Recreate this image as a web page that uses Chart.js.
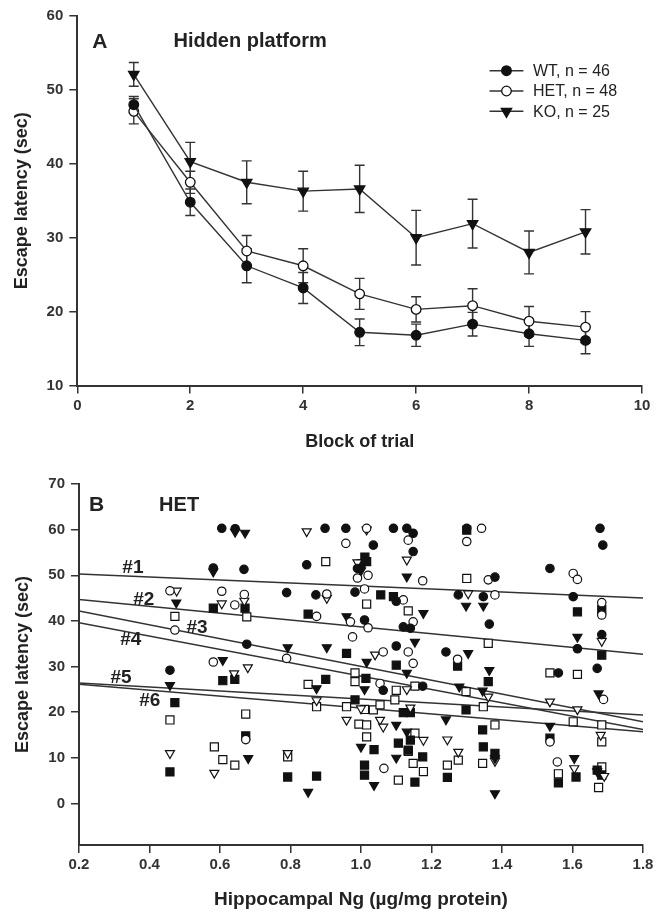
<!DOCTYPE html>
<html>
<head>
<meta charset="utf-8">
<script src="https://cdn.jsdelivr.net/npm/chart.js@4.4.0/dist/chart.umd.min.js"></script>
<style>
  body { margin: 0; background: #fff; }
  #wrap { position: relative; width: 665px; height: 913px; }
  canvas { position: absolute; left: 0; }
  #chartA { top: 0; }
  #chartB { top: 455px; }
</style>
</head>
<body>
<div id="wrap">
  <canvas id="chartA" width="665" height="455"></canvas>
  <canvas id="chartB" width="665" height="458"></canvas>
</div>
<script>
/* ---------- data: panel A (hidden platform) ---------- */
var blocks = [1, 2, 3, 4, 5, 6, 7, 8, 9];
var groupNames = ['WT, n = 46', 'HET, n = 48', 'KO, n = 25'];
var wtMean = [48.0, 34.8, 26.2, 23.2, 17.2, 16.8, 18.3, 17.0, 16.1];
var wtErr = [1.1, 1.8, 2.3, 2.1, 1.8, 1.5, 1.6, 1.7, 1.8];
var hetMean = [47.1, 37.5, 28.2, 26.2, 22.4, 20.3, 20.8, 18.7, 17.9];
var hetErr = [1.7, 1.5, 2.1, 2.3, 2.1, 1.7, 2.3, 2.0, 2.1];
var koMean = [52.1, 40.3, 37.5, 36.3, 36.6, 30.0, 31.9, 28.0, 30.8];
var koErr = [1.6, 2.6, 2.9, 2.7, 3.2, 3.7, 3.3, 2.9, 3.0];
var xTicksA = [0, 2, 4, 6, 8, 10];
var yTicksA = [10, 20, 30, 40, 50, 60];

/* ---------- data: panel B (HET, escape latency vs Ng) ---------- */
// [Ng, latency] per animal, one array per trial
var trial1 = [[0.458,29.2],[0.581,51.6],[0.605,60.3],[0.643,60.2],[0.668,51.3],[0.676,34.9],[0.789,46.2],
  [0.846,52.3],[0.872,45.7],[0.898,60.3],[0.957,60.3],[0.983,46.3],[0.99,51.5],[1.01,40.2],[1.035,56.6],
  [1.063,24.8],[1.092,60.3],[1.1,44.3],[1.1,34.5],[1.12,38.7],[1.13,60.3],[1.148,59.2],[1.148,55.2],
  [1.14,38.4],[1.175,25.7],[1.241,33.2],[1.276,45.7],[1.3,60.3],[1.347,45.3],[1.364,39.3],[1.38,49.6],
  [1.536,51.5],[1.56,28.6],[1.602,45.3],[1.614,33.9],[1.67,29.6],[1.678,60.3],[1.686,56.6],[1.683,37.0]];
var trial2 = [[0.472,38.0],[0.458,46.6],[0.581,31.0],[0.605,46.5],[0.642,43.5],[0.669,45.8],[0.673,14.0],
  [0.789,31.8],[0.874,41.0],[0.903,45.9],[0.957,57.0],[0.97,39.8],[0.976,36.5],[0.99,49.4],[1.016,60.3],
  [1.02,50.0],[1.01,47.0],[1.02,38.5],[1.054,26.3],[1.063,33.2],[1.065,7.7],[1.12,44.6],[1.134,57.7],
  [1.134,33.2],[1.148,39.8],[1.148,30.7],[1.175,48.8],[1.274,31.6],[1.3,57.4],[1.342,60.3],[1.361,49.0],
  [1.38,45.7],[1.536,13.5],[1.557,9.1],[1.602,50.4],[1.614,49.1],[1.683,44.0],[1.683,41.3],[1.688,22.8]];
var trial3 = [[0.458,25.9],[0.476,44.0],[0.581,50.8],[0.608,31.4],[0.643,59.5],[0.671,59.3],[0.68,9.9],
  [0.792,34.2],[0.85,2.5],[0.874,25.2],[0.903,34.2],[0.959,41.0],[1.0,51.0],[1.0,12.4],[1.016,31.0],
  [1.01,25.0],[1.037,4.0],[1.1,17.2],[1.1,10.0],[1.13,49.7],[1.13,28.6],[1.13,15.7],[1.153,35.4],
  [1.177,41.7],[1.241,18.4],[1.279,25.6],[1.298,43.3],[1.304,32.9],[1.345,24.7],[1.347,43.3],[1.364,29.2],
  [1.38,9.9],[1.38,2.2],[1.536,17.0],[1.605,9.9],[1.614,36.5],[1.674,24.1],[1.67,7.0]];
var trial4 = [[0.458,11.0],[0.477,46.6],[0.584,6.7],[0.605,43.8],[0.64,28.5],[0.679,29.8],[0.669,44.4],
  [0.792,11.0],[0.846,59.6],[0.874,22.6],[0.903,45.0],[0.959,18.3],[0.99,52.8],[1.016,60.0],[1.0,20.8],
  [1.04,32.6],[1.054,18.3],[1.063,16.8],[1.13,53.4],[1.13,25.0],[1.14,21.0],[1.177,13.9],[1.245,14.0],
  [1.276,11.3],[1.304,46.0],[1.361,23.4],[1.38,9.3],[1.536,22.3],[1.605,7.7],[1.614,20.6],[1.68,15.0],
  [1.683,35.6],[1.69,6.0]];
var trial5 = [[0.458,6.9],[0.472,22.1],[0.581,42.8],[0.608,26.9],[0.642,27.2],[0.671,42.8],[0.673,14.8],
  [0.792,5.8],[0.85,41.5],[0.874,6.0],[0.9,27.2],[0.959,32.9],[0.983,22.7],[1.0,52.5],[1.011,54.0],
  [1.016,53.0],[1.014,27.4],[1.037,11.8],[1.01,8.4],[1.01,6.2],[1.056,45.7],[1.092,45.3],[1.1,30.3],
  [1.12,19.9],[1.14,19.9],[1.106,13.2],[1.14,13.9],[1.134,11.7],[1.175,10.2],[1.153,4.7],[1.245,5.7],
  [1.274,30.1],[1.298,20.5],[1.3,59.9],[1.345,16.1],[1.347,12.4],[1.361,26.7],[1.38,11.0],[1.536,14.3],
  [1.56,4.5],[1.61,5.8],[1.614,42.0],[1.67,7.3],[1.683,42.5],[1.683,32.5],[1.683,6.2]];
var trial6 = [[0.458,18.3],[0.472,41.0],[0.584,12.4],[0.608,9.6],[0.642,8.4],[0.673,19.6],[0.676,40.9],
  [0.792,10.2],[0.85,26.1],[0.874,21.2],[0.9,53.0],[0.959,21.2],[0.983,28.6],[0.983,26.7],[0.994,17.4],
  [1.016,17.2],[1.016,14.6],[1.016,43.7],[1.01,20.6],[1.035,20.5],[1.054,21.6],[1.096,22.7],[1.1,24.8],
  [1.106,5.1],[1.134,42.2],[1.134,11.4],[1.153,15.4],[1.148,8.8],[1.153,25.7],[1.177,7.0],[1.245,8.4],
  [1.276,9.5],[1.298,24.5],[1.3,49.3],[1.345,8.8],[1.347,21.2],[1.361,35.1],[1.38,17.2],[1.536,28.6],
  [1.56,6.5],[1.602,17.9],[1.614,28.3],[1.674,3.5],[1.683,17.2],[1.683,13.5],[1.683,8.0]];
// regression lines: value at Ng = 0.2 and at Ng = 1.8
var fitNames = ['#1', '#2', '#3', '#4', '#5', '#6'];
var fitStart = [50.3, 44.7, 42.2, 39.6, 26.4, 26.1];
var fitEnd = [45.0, 32.7, 17.9, 16.2, 19.4, 15.7];
var xTicksB = [0.2, 0.4, 0.6, 0.8, 1.0, 1.2, 1.4, 1.6, 1.8];
var yTicksB = [0, 10, 20, 30, 40, 50, 60, 70];

/* ---------- shared look ---------- */
var FONT = "'Liberation Sans', Arial, sans-serif";
var INK = '#333';

function toXY(xs, ys) {
  return xs.map(function (x, i) { return {x: x, y: ys[i]}; });
}
function pairs(arr) {
  return arr.map(function (p) { return {x: p[0], y: p[1]}; });
}
function fixedTicks(vals) {
  return function (scale) {
    scale.ticks = vals.map(function (v) { return {value: v}; });
  };
}
function axis(opts) {
  return Object.assign({
    type: 'linear',
    grid: {drawOnChartArea: false, drawTicks: true, tickLength: 8, color: INK, lineWidth: 1.5},
    border: {display: true, color: INK, width: 2},
    ticks: {color: INK, font: {family: FONT, size: 15, weight: 'bold'}}
  }, opts);
}

// error bars drawn through the scales
var errorBars = {
  id: 'errorBars',
  beforeDatasetsDraw: function (chart) {
    var ctx = chart.ctx, xs = chart.scales.x, ys = chart.scales.y;
    chart.data.datasets.forEach(function (ds) {
      if (!ds.err) return;
      ctx.save();
      ctx.strokeStyle = INK;
      ctx.lineWidth = 1.4;
      ds.data.forEach(function (p, i) {
        var x = xs.getPixelForValue(p.x);
        var y1 = ys.getPixelForValue(p.y + ds.err[i]);
        var y2 = ys.getPixelForValue(p.y - ds.err[i]);
        ctx.beginPath();
        ctx.moveTo(x, y1); ctx.lineTo(x, y2);
        ctx.moveTo(x - 5, y1); ctx.lineTo(x + 5, y1);
        ctx.moveTo(x - 5, y2); ctx.lineTo(x + 5, y2);
        ctx.stroke();
      });
      ctx.restore();
    });
  }
};

// free text labels placed in data units
var textLabels = {
  id: 'textLabels',
  afterDatasetsDraw: function (chart, args, opts) {
    var ctx = chart.ctx, xs = chart.scales.x, ys = chart.scales.y;
    ctx.save();
    ctx.fillStyle = '#222';
    ctx.textBaseline = 'middle';
    (opts.items || []).forEach(function (t) {
      ctx.font = t.font;
      ctx.textAlign = t.align || 'center';
      ctx.fillText(t.text, xs.getPixelForValue(t.x), ys.getPixelForValue(t.y));
    });
    ctx.restore();
  }
};

// legend: short line with the marker in the middle, then the label
var lineLegend = {
  id: 'lineLegend',
  afterDatasetsDraw: function (chart, args, opts) {
    var ctx = chart.ctx, xs = chart.scales.x, ys = chart.scales.y;
    var x0 = xs.getPixelForValue(opts.x0), x1 = xs.getPixelForValue(opts.x1);
    var xt = xs.getPixelForValue(opts.xText);
    ctx.save();
    chart.data.datasets.forEach(function (ds, i) {
      var y = ys.getPixelForValue(opts.y0 - i * opts.dy);
      ctx.strokeStyle = INK;
      ctx.lineWidth = 1.5;
      ctx.beginPath(); ctx.moveTo(x0, y); ctx.lineTo(x1, y); ctx.stroke();
      ctx.fillStyle = ds.pointBackgroundColor;
      ctx.strokeStyle = ds.pointBorderColor;
      ctx.lineWidth = ds.pointBorderWidth;
      Chart.helpers.drawPoint(ctx, {pointStyle: ds.pointStyle, radius: ds.pointRadius,
        rotation: ds.pointRotation || 0, borderWidth: ds.pointBorderWidth}, (x0 + x1) / 2, y);
      ctx.fillStyle = '#222';
      ctx.font = '16px ' + FONT;
      ctx.textAlign = 'left';
      ctx.textBaseline = 'middle';
      ctx.fillText(ds.label, xt, y + 1);
    });
    ctx.restore();
  }
};

/* ---------- panel A ---------- */
function groupSet(label, mean, err, style, fill, radius, rot) {
  return {
    label: label, data: toXY(blocks, mean), err: err, showLine: true,
    borderColor: INK, borderWidth: 1.4,
    pointStyle: style, pointRadius: radius, pointHoverRadius: radius, pointRotation: rot || 0,
    pointBackgroundColor: fill, pointBorderColor: '#111', pointBorderWidth: 1.3
  };
}

new Chart(document.getElementById('chartA'), {
  type: 'scatter',
  data: {
    datasets: [
      groupSet(groupNames[0], wtMean, wtErr, 'circle', '#111', 4.8),
      groupSet(groupNames[1], hetMean, hetErr, 'circle', '#fff', 4.8),
      groupSet(groupNames[2], koMean, koErr, 'triangle', '#111', 6, 180)
    ]
  },
  options: {
    responsive: false,
    animation: false,
    layout: {padding: {left: 0, right: 23, top: 16, bottom: 0}},
    plugins: {
      legend: {display: false},
      tooltip: {enabled: false},
      lineLegend: {x0: 7.3, x1: 7.9, xText: 8.07, y0: 52.6, dy: 2.75},
      textLabels: {items: [
        {text: 'A', x: 0.4, y: 56.5, font: 'bold 21px ' + FONT},
        {text: 'Hidden platform', x: 3.06, y: 56.5, font: 'bold 20px ' + FONT}
      ]}
    },
    scales: {
      x: axis({
        min: 0, max: 10,
        afterBuildTicks: fixedTicks(xTicksA),
        afterFit: function (s) { s.height = 455 - 385.5; },
        ticks: {color: INK, padding: 3, font: {family: FONT, size: 15, weight: 'bold'}},
        title: {display: true, text: 'Block of trial', color: '#222', padding: {top: 0, bottom: 2.5},
          font: {family: FONT, size: 18, weight: 'bold'}}
      }),
      y: axis({
        min: 10, max: 60,
        afterBuildTicks: fixedTicks(yTicksA),
        afterFit: function (s) { s.width = 77.3; },
        ticks: {color: INK, padding: 6, font: {family: FONT, size: 15, weight: 'bold'}},
        title: {display: true, text: 'Escape latency (sec)', color: '#222', padding: {top: 11, bottom: 0},
          font: {family: FONT, size: 18, weight: 'bold'}}
      })
    }
  },
  plugins: [errorBars, lineLegend, textLabels]
});

/* ---------- panel B ---------- */
var trialStyles = [
  {style: 'circle', fill: '#111', r: 4.2},
  {style: 'circle', fill: '#fff', r: 4.2},
  {style: 'triangle', fill: '#111', r: 5.2, rot: 180},
  {style: 'triangle', fill: '#fff', r: 5.2, rot: 180},
  {style: 'rect', fill: '#111', r: 5.7},
  {style: 'rect', fill: '#fff', r: 5.7}
];
var trials = [trial1, trial2, trial3, trial4, trial5, trial6];

var setsB = [];
trials.forEach(function (t, i) {
  var st = trialStyles[i];
  setsB.push({
    label: fitNames[i], data: pairs(t), showLine: false,
    pointStyle: st.style, pointRadius: st.r, pointHoverRadius: st.r, pointRotation: st.rot || 0,
    pointBackgroundColor: st.fill, pointBorderColor: '#111', pointBorderWidth: 1.2
  });
});
fitNames.forEach(function (n, i) {
  setsB.push({
    label: n + ' fit', data: toXY([0.2, 1.8], [fitStart[i], fitEnd[i]]), showLine: true,
    borderColor: INK, borderWidth: 1.5, pointRadius: 0, pointHoverRadius: 0
  });
});

new Chart(document.getElementById('chartB'), {
  type: 'scatter',
  data: {datasets: setsB},
  options: {
    responsive: false,
    animation: false,
    layout: {padding: {left: 0, right: 22, top: 29, bottom: 0}},
    plugins: {
      legend: {display: false},
      tooltip: {enabled: false},
      textLabels: {items: [
        {text: 'B', x: 0.25, y: 65.4, font: 'bold 21px ' + FONT},
        {text: 'HET', x: 0.484, y: 65.4, font: 'bold 20px ' + FONT},
        {text: fitNames[0], x: 0.353, y: 51.6, font: 'bold 19px ' + FONT},
        {text: fitNames[1], x: 0.384, y: 44.6, font: 'bold 19px ' + FONT},
        {text: fitNames[2], x: 0.535, y: 38.5, font: 'bold 19px ' + FONT},
        {text: fitNames[3], x: 0.347, y: 35.8, font: 'bold 19px ' + FONT},
        {text: fitNames[4], x: 0.319, y: 27.5, font: 'bold 19px ' + FONT},
        {text: fitNames[5], x: 0.401, y: 22.4, font: 'bold 19px ' + FONT}
      ]}
    },
    scales: {
      x: axis({
        min: 0.2, max: 1.8,
        afterBuildTicks: fixedTicks(xTicksB),
        afterFit: function (s) { s.height = 458 - 390; },
        ticks: {color: INK, padding: 3, font: {family: FONT, size: 15, weight: 'bold'},
          callback: function (v) { return v.toFixed(1); }},
        title: {display: true, text: 'Hippocampal Ng (\u00b5g/mg protein)', color: '#222', padding: {top: 0, bottom: 1.5},
          font: {family: FONT, size: 19, weight: 'bold'}}
      }),
      y: axis({
        min: -9.1, max: 70,
        afterBuildTicks: fixedTicks(yTicksB),
        afterFit: function (s) { s.width = 79; },
        ticks: {color: INK, padding: 6, font: {family: FONT, size: 15, weight: 'bold'}},
        title: {display: true, text: 'Escape latency (sec)', color: '#222', padding: {top: 12, bottom: 0},
          font: {family: FONT, size: 18, weight: 'bold'}}
      })
    }
  },
  plugins: [textLabels]
});
</script>
</body>
</html>
